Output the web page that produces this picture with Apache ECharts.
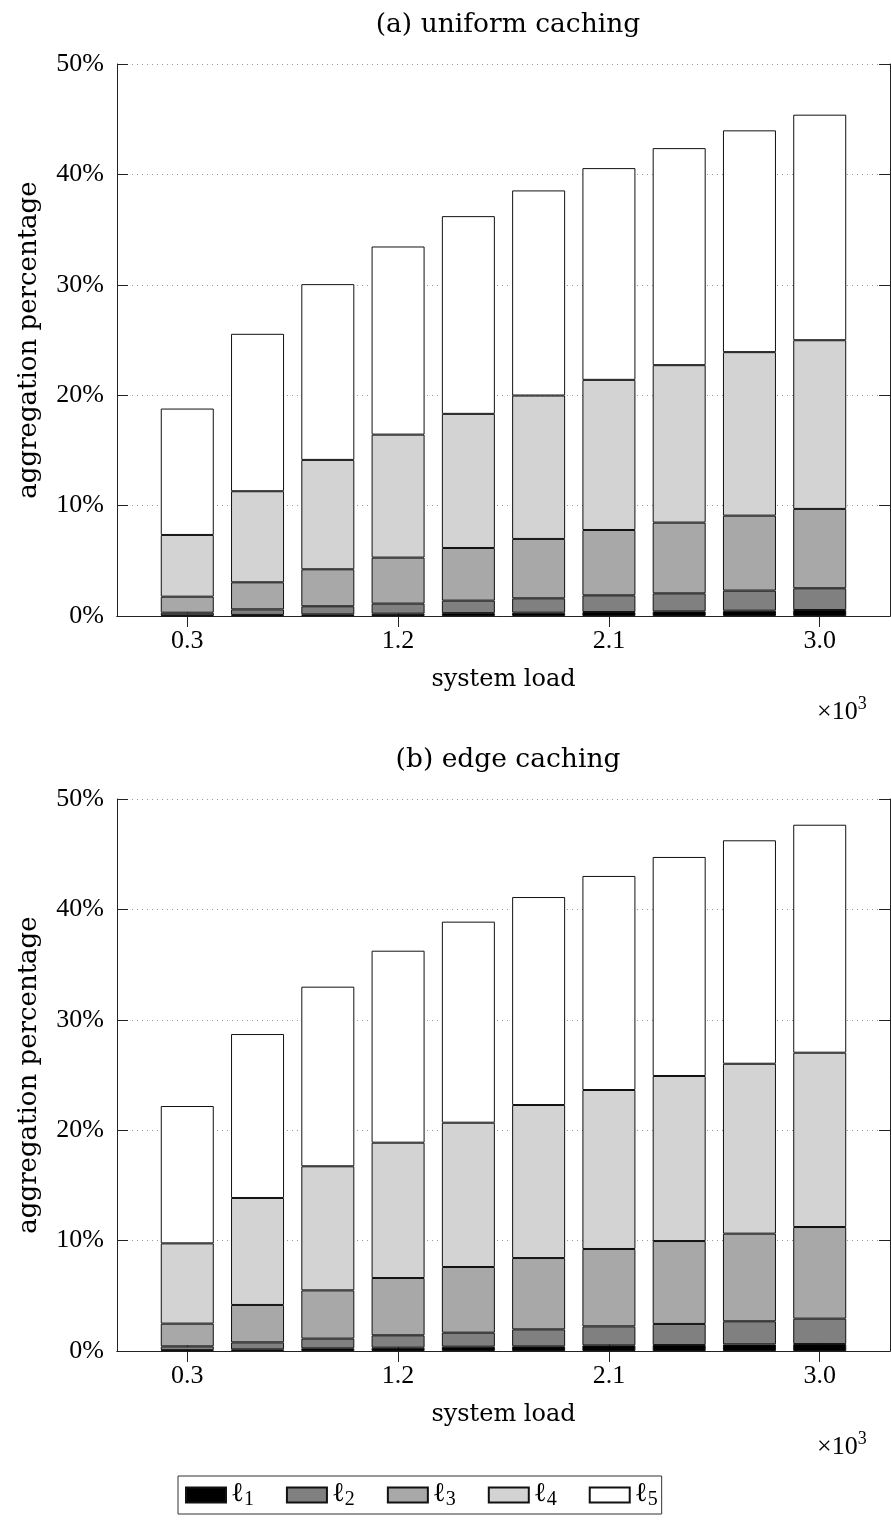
<!DOCTYPE html>
<html>
<head>
<meta charset="utf-8">
<script src="https://cdn.jsdelivr.net/npm/echarts@6/dist/echarts.min.js"></script>
<style>
  html, body { margin: 0; padding: 0; background: #fff; }
  #chart { width: 891px; height: 1524px; }
</style>
</head>
<body>
<div id="chart"></div>
<script>
// System load (×10^3) for each bar group
const loads = [0.3, 0.6, 0.9, 1.2, 1.5, 1.8, 2.1, 2.4, 2.7, 3.0];
// Labelled ticks on the load axis
const tickLoads = ['0.3', '1.2', '2.1', '3.0'];
// Axis ends, half a step outside the first and last bar
const loadBounds = ['0.0', '3.3'];
// Percentage ticks
const yTicks = [0, 10, 20, 30, 40, 50];

// Cache levels: name subscripts and fill shades
const levelNames = ['ℓ1', 'ℓ2', 'ℓ3', 'ℓ4', 'ℓ5'];
const levelColors = ['#000000', '#808080', '#a8a8a8', '#d3d3d3', '#ffffff'];

// (a) uniform caching: share of aggregation at each level (%)
const uniformL1 = [0.05, 0.10, 0.15, 0.21, 0.26, 0.30, 0.36, 0.42, 0.48, 0.54];
const uniformL2 = [0.25, 0.50, 0.73, 0.91, 1.13, 1.30, 1.51, 1.63, 1.82, 1.97];
const uniformL3 = [1.45, 2.45, 3.35, 4.17, 4.77, 5.38, 5.92, 6.41, 6.79, 7.19];
const uniformL4 = [5.59, 8.25, 9.91, 11.14, 12.15, 12.99, 13.60, 14.26, 14.81, 15.28];
const uniformL5 = [11.45, 14.26, 15.92, 17.04, 17.91, 18.58, 19.18, 19.66, 20.09, 20.43];

// (b) edge caching: share of aggregation at each level (%)
const edgeL1 = [0.08, 0.15, 0.24, 0.30, 0.39, 0.42, 0.51, 0.54, 0.60, 0.63];
const edgeL2 = [0.34, 0.63, 0.88, 1.12, 1.27, 1.54, 1.72, 1.91, 2.09, 2.30];
const edgeL3 = [2.06, 3.39, 4.37, 5.19, 5.95, 6.46, 7.01, 7.51, 7.94, 8.30];
const edgeL4 = [7.27, 9.69, 11.24, 12.26, 13.07, 13.86, 14.40, 14.95, 15.39, 15.79];
const edgeL5 = [12.44, 14.85, 16.27, 17.39, 18.21, 18.84, 19.39, 19.84, 20.24, 20.65];

const panels = [
  { title: '(a) uniform caching', levels: [uniformL1, uniformL2, uniformL3, uniformL4, uniformL5] },
  { title: '(b) edge caching', levels: [edgeL1, edgeL2, edgeL3, edgeL4, edgeL5] }
];

const wordFont = '"DejaVu Serif", serif';
const numFont = '"Liberation Serif", serif';
const ink = '#222';

const categories = [loadBounds[0]].concat(loads.map(v => v.toFixed(1)), [loadBounds[1]]);
const isTick = (idx, val) => tickLoads.indexOf(val) >= 0;

const gridTop = [64, 799];
const grids = [], xAxes = [], yAxes = [], series = [], titles = [];

panels.forEach((p, g) => {
  grids.push({ left: 117, top: gridTop[g], width: 773, height: 552, containLabel: false });

  titles.push({
    text: p.title, left: 503, top: gridTop[g] - 57, textAlign: 'center',
    textStyle: { fontFamily: wordFont, fontSize: 26.5, fontWeight: 'normal', color: '#000' }
  });
  // power-of-ten multiplier under the load axis
  titles.push({
    text: '{b|×10}{e|3}', left: 812, top: gridTop[g] + 626,
    textStyle: {
      fontWeight: 'normal',
      rich: {
        b: { fontFamily: numFont, fontSize: 26, fontWeight: 'normal', color: '#000', lineHeight: 30, verticalAlign: 'bottom' },
        e: { fontFamily: numFont, fontSize: 18, fontWeight: 'normal', color: '#000', lineHeight: 18, verticalAlign: 'top' }
      }
    }
  });

  const lineStyle = { color: ink, width: 1 };
  xAxes.push({
    type: 'category', gridIndex: g, data: categories, boundaryGap: false, position: 'bottom',
    name: 'system load', nameLocation: 'middle', nameGap: 52,
    nameTextStyle: { fontFamily: wordFont, fontSize: 24, color: '#000' },
    axisLine: { show: true, lineStyle },
    axisTick: { show: true, inside: true, length: 11, interval: isTick, lineStyle },
    axisLabel: { interval: isTick, margin: 12, fontFamily: numFont, fontSize: 26, color: '#000' },
    splitLine: { show: false }
  });
  xAxes.push({
    type: 'category', gridIndex: g, data: categories, boundaryGap: false, position: 'top',
    axisLine: { show: true, lineStyle },
    axisTick: { show: true, inside: true, length: 11, interval: isTick, lineStyle },
    axisLabel: { show: false }, splitLine: { show: false }
  });
  yAxes.push({
    type: 'value', gridIndex: g, min: yTicks[0], max: yTicks[yTicks.length - 1], interval: 10,
    name: 'aggregation percentage', nameLocation: 'middle', nameRotate: 90, nameGap: 75,
    nameTextStyle: { fontFamily: wordFont, fontSize: 26, color: '#000' },
    axisLine: { show: true, lineStyle },
    axisTick: { show: true, inside: true, length: 11, lineStyle },
    axisLabel: { formatter: '{value}%', margin: 13, fontFamily: numFont, fontSize: 26, color: '#000' },
    splitLine: { show: true, lineStyle: { color: '#999', width: 1, type: [1, 4] } }
  });
  yAxes.push({
    type: 'value', gridIndex: g, position: 'right', min: yTicks[0], max: yTicks[yTicks.length - 1], interval: 10,
    axisLine: { show: true, lineStyle },
    axisTick: { show: true, inside: true, length: 11, lineStyle },
    axisLabel: { show: false }, splitLine: { show: false }
  });

  p.levels.forEach((vals, k) => {
    series.push({
      name: levelNames[k], type: 'bar', stack: 'levels' + g,
      xAxisIndex: 2 * g, yAxisIndex: 2 * g,
      barWidth: 53,
      data: ['-'].concat(vals, ['-']),
      itemStyle: { color: levelColors[k], borderColor: '#111', borderWidth: 1 },
      emphasis: { disabled: true },
      animation: false
    });
  });
});

const chart = echarts.init(document.getElementById('chart'), null, { renderer: 'canvas' });
chart.setOption({
  backgroundColor: '#fff',
  animation: false,
  title: titles,
  grid: grids,
  xAxis: xAxes,
  yAxis: yAxes,
  legend: {
    data: levelNames,
    left: 178, top: 1476,
    orient: 'horizontal',
    icon: 'rect',
    itemWidth: 40, itemHeight: 15, itemGap: 32,
    padding: [4, 4, 4, 7],
    borderColor: '#333', borderWidth: 1,
    // script ell with a lowered level number
    formatter: name => '{l|' + name.charAt(0) + '}{s|' + name.slice(1) + '}',
    textStyle: {
      width: 32,
      rich: {
        l: { fontFamily: wordFont, fontSize: 27, color: '#000', lineHeight: 30, verticalAlign: 'top' },
        s: { fontFamily: numFont, fontSize: 20, color: '#000', lineHeight: 20, verticalAlign: 'bottom' }
      }
    },
    selectedMode: false
  },
  series: series
});
</script>
</body>
</html>
